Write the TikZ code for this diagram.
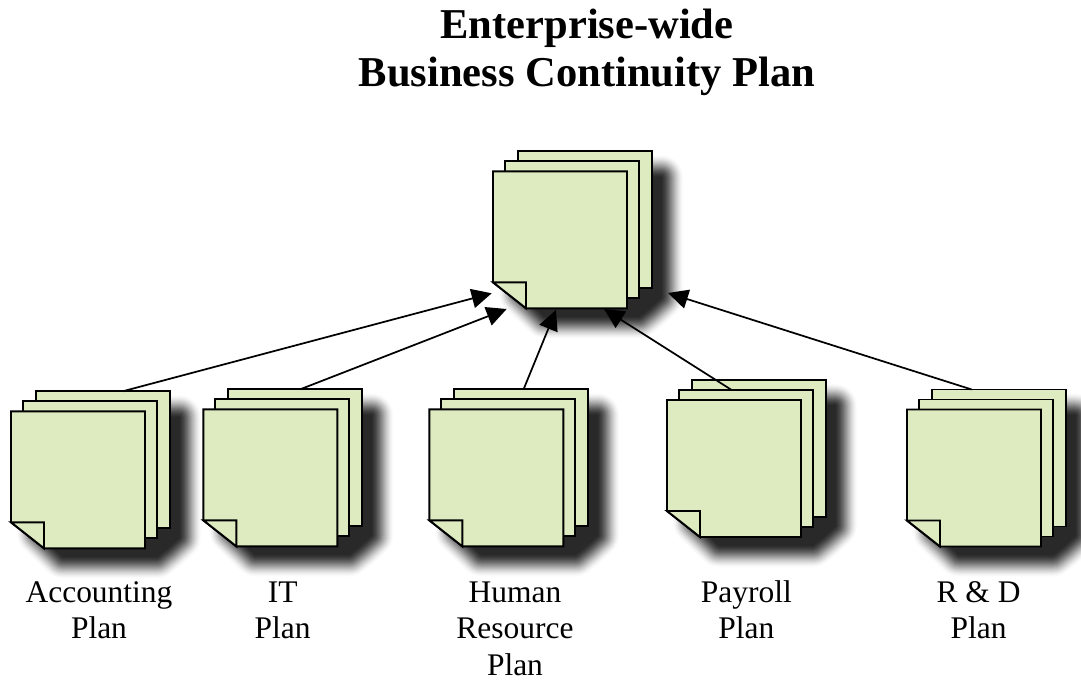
\documentclass[tikz,border=0pt]{standalone}
\usepackage{fontspec}
\setmainfont{Liberation Serif}
\usetikzlibrary{arrows.meta,calc}
\definecolor{pagegreen}{HTML}{DEEBC1}
\tikzset{
  anchorbox/.style={inner sep=0pt,outer sep=0pt,minimum width=100.5pt,minimum height=102.75pt,anchor=north west},
  outline/.style={draw=black,line width=1.45pt,line join=miter},
  link/.style={draw=black,line width=1.3pt,-{Triangle[length=15pt,width=14.5pt]}},
  caption/.style={align=center,anchor=north,font=\fontsize{23.6}{27.4}\selectfont,inner sep=0pt},
  headline/.style={align=center,anchor=north,font=\bfseries\fontsize{31.9}{36}\selectfont,inner sep=0pt},
}
\newcommand{\planstack}[3]{%
  \begin{scope}[shift={(#2,#3)}]
    \foreach \r in {23,22,...,0}{
      \pgfmathsetmacro{\shadowt}{(23-\r)/23}
      \pgfmathsetmacro{\shadowp}{84*(0.25*\shadowt+0.75*\shadowt*\shadowt*(3-2*\shadowt))}
      \filldraw[draw=black!\shadowp,fill=black!\shadowp,line width=1.5*\r pt,line join=round]
        (40,6) -- (168,6) -- (168,126) -- (156,137) -- (146,145) -- (52,145) -- (28,122) -- cycle;
    }
    \node[anchorbox] (#1back) at (25,-20) {};
    \node[anchorbox] (#1mid) at (12,-10) {};
    \fill[pagegreen] (25,-20) -- (159,-20) -- (159,117) -- (134,117) -- (134,0) -- (25,0) -- cycle;
    \draw[outline] (25,0) -- (25,-20) -- (159,-20) -- (159,117) -- (134,117);
    \fill[pagegreen] (12,-10) -- (146,-10) -- (146,127) -- (134,127) -- (134,0) -- (12,0) -- cycle;
    \draw[outline] (12,0) -- (12,-10) -- (146,-10) -- (146,127) -- (134,127);
    \filldraw[outline,fill=pagegreen] (0,0) -- (134,0) -- (134,137) -- (33,137) -- (0,111) -- cycle;
    \node[anchorbox] (#1front) at (0,0) {};
    \filldraw[outline,fill=pagegreen] (0,111) -- (33,111) -- (33,137) -- cycle;
  \end{scope}}
\begin{document}
\begin{tikzpicture}[x=0.75pt,y=-0.75pt]
  \useasboundingbox (0,0) rectangle (1081,680);
  \fill[white] (0,0) rectangle (1081,680);
  \node[headline] (title) at (587,4.4) {\strut Enterprise-wide\\Business Continuity Plan};

  \planstack{main}{493}{171.3}
  \planstack{acc}{11}{411.3}
  \planstack{it}{203.3}{409.3}
  \planstack{hr}{429.3}{409.3}
  \planstack{pay}{667}{400}
  \planstack{rd}{907}{409.5}

  \coordinate (tipA) at (491.7,293.3);
  \coordinate (tipB) at (506.7,309);
  \coordinate (tipC) at (556,310);
  \coordinate (tipD) at (604,309);
  \coordinate (tipE) at (668,293);

  \draw[link] ($(accback.north west)!0.647!(accback.north east)$) -- (tipA);
  \draw[link] ($(itback.north west)!0.537!(itback.north east)$) -- (tipB);
  \draw[link] ($(hrback.north west)!0.517!(hrback.north east)$) -- (tipC);
  \draw[link] ($(paymid.north west)!0.393!(paymid.north east)$) -- (tipD);
  \draw[link] ($(rdback.north west)!0.296!(rdback.north east)$) -- (tipE);

  \node[caption] (accl) at (99,576.5) {\strut Accounting\\Plan};
  \node[caption] (itl) at (282.7,576.5) {\strut IT\\Plan};
  \node[caption] (hrl) at (515,576.5) {\strut Human\\Resource\\Plan};
  \node[caption] (payl) at (746.3,576.5) {\strut Payroll\\Plan};
  \node[caption] (rdl) at (978.5,576.5) {\strut R \& D\\Plan};
\end{tikzpicture}
\end{document}
